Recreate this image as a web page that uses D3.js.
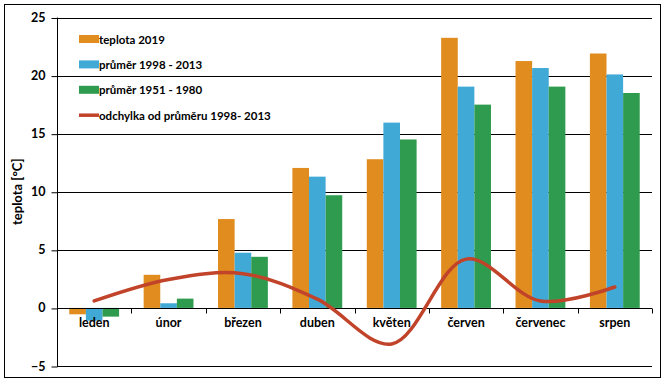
<!DOCTYPE html>
<meta charset="utf-8">
<head>
  <title>Teplota 2019</title>
</head>

<style>
body { margin: 0; background: #fff; }
text { font-family: Lato, "Open Sans", sans-serif; font-weight: bold; fill: #000; }
</style>

<body>
  <svg width="668" height="383"></svg>

  <script src="https://cdnjs.cloudflare.com/ajax/libs/d3/7.8.5/d3.min.js"></script>
  <script>

// data
const months = ["leden", "únor", "březen", "duben", "květen", "červen", "červenec", "srpen"];
const teplota2019 = [-0.55, 2.85, 7.65, 12.05, 12.8, 23.25, 21.25, 21.9];
const prumer9813 = [-1.1, 0.4, 4.75, 11.3, 15.95, 19.05, 20.65, 20.1];
const prumer5180 = [-0.75, 0.8, 4.4, 9.7, 14.5, 17.5, 19.05, 18.5];
const odchylka = [0.6, 2.45, 2.95, 0.75, -3.1, 4.2, 0.6, 1.8];
const yTicks = [-5, 0, 5, 10, 15, 20, 25];

const series = [
  { name: "teplota 2019", values: teplota2019, color: "#E08C1E" },
  { name: "průměr 1998 - 2013", values: prumer9813, color: "#41A9D5" },
  { name: "průměr 1951 - 1980", values: prumer5180, color: "#2E9B4F" }
];
const lineName = "odchylka od průměru 1998- 2013";
const lineColor = "#C0432A";

const svg = d3.select("svg");

// outer frame
svg.append("rect")
  .attr("x", 4.5).attr("y", 4.5)
  .attr("width", 656).attr("height", 373)
  .attr("fill", "none").attr("stroke", "#000").attr("stroke-width", 1);

const x = d3.scaleBand().domain(months).range([57, 652]);
const y = d3.scaleLinear().domain([-5, 25]).range([366, 17.5]);
const bw = x.bandwidth();
const x1 = d3.scaleBand()
  .domain(series.map(d => d.name))
  .range([bw * 0.165, bw * 0.835]);

// gridlines
svg.append("g")
  .selectAll("line")
  .data(yTicks.filter(d => d !== 0))
  .enter().append("line")
  .attr("x1", 57).attr("x2", 652)
  .attr("y1", d => Math.round(y(d)) + 0.5)
  .attr("y2", d => Math.round(y(d)) + 0.5)
  .attr("stroke", "#000");

// y axis
const yAxis = svg.append("g")
  .attr("transform", "translate(57.5,0)")
  .call(d3.axisLeft(y).tickValues(yTicks).tickSize(6).tickPadding(6)
    .tickFormat(d3.format("d")));
yAxis.selectAll("text").attr("font-size", 12.5).style("font-family", "Lato, sans-serif");
yAxis.select(".domain").attr("d", "M0," + y(25) + "V" + y(-5));
yAxis.selectAll(".tick line").attr("y1", 0.5).attr("y2", 0.5);

svg.append("text")
  .attr("transform", "translate(22," + y(10) + ") rotate(-90)")
  .attr("text-anchor", "middle")
  .attr("font-size", 13)
  .text("teplota [°C]");

// bars
series.forEach(s => {
  svg.append("g")
    .selectAll("rect")
    .data(s.values)
    .enter().append("rect")
    .attr("x", (d, i) => x(months[i]) + x1(s.name))
    .attr("y", d => y(Math.max(0, d)))
    .attr("width", x1.bandwidth())
    .attr("height", d => Math.abs(y(d) - y(0)))
    .attr("fill", s.color);
});

// category axis at zero
const xAxis = svg.append("g")
  .attr("transform", "translate(0," + (Math.round(y(0)) + 0.5) + ")");
xAxis.append("line")
  .attr("x1", 57).attr("x2", 652)
  .attr("stroke", "#000");
xAxis.selectAll(".tk")
  .data(months.concat(["end"]))
  .enter().append("line")
  .attr("x1", (d, i) => Math.round(57 + i * bw) + 0.5)
  .attr("x2", (d, i) => Math.round(57 + i * bw) + 0.5)
  .attr("y1", 0).attr("y2", 5)
  .attr("stroke", "#000");
xAxis.selectAll("text")
  .data(months)
  .enter().append("text")
  .attr("x", d => x(d) + bw / 2)
  .attr("y", 18)
  .attr("text-anchor", "middle")
  .attr("font-size", 12.5)
  .text(d => d);

// deviation line
const line = d3.line()
  .x((d, i) => x(months[i]) + bw / 2)
  .y(d => y(d))
  .curve(d3.curveCatmullRom.alpha(0.5));

svg.append("path")
  .datum(odchylka)
  .attr("d", line)
  .attr("fill", "none")
  .attr("stroke", lineColor)
  .attr("stroke-width", 3.5)
  .attr("stroke-linecap", "round");

// legend
const legend = svg.append("g").attr("transform", "translate(79,39)");
series.forEach((s, i) => {
  const g = legend.append("g").attr("transform", "translate(0," + i * 25.4 + ")");
  g.append("rect").attr("x", 0).attr("y", -4).attr("width", 20).attr("height", 8).attr("fill", s.color);
  g.append("text").attr("x", 20).attr("y", 4.5).attr("font-size", 11.5).text(s.name);
});
const lg = legend.append("g").attr("transform", "translate(0," + 3 * 25.4 + ")");
lg.append("line").attr("x1", 0).attr("x2", 20).attr("stroke", lineColor).attr("stroke-width", 3.5);
lg.append("text").attr("x", 20).attr("y", 4.5).attr("font-size", 11.5).text(lineName);

  </script>
</body>
</html>
